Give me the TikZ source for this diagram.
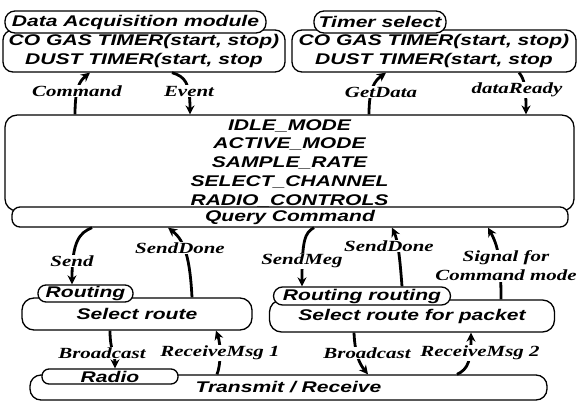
\documentclass[tikz,border=0pt]{standalone}
\usepackage{fontspec}
\usetikzlibrary{arrows.meta}
\newfontfamily\boxf[FakeStretch=1.36]{Liberation Sans}
\newfontfamily\labf[FakeStretch=1.35]{Liberation Serif}
\tikzset{
  box/.style={draw, line width=1.3pt, rounded corners=10pt, fill=white, inner sep=0pt, align=center,
    font=\boxf\bfseries\itshape\fontsize{15.5}{19}\selectfont},
  pill/.style={box},
  conn/.style={line width=2.8pt, -{Stealth[length=9pt,width=9pt]}},
  lab/.style={fill=white, inner sep=1pt, align=center,
    font=\labf\bfseries\itshape\fontsize{15.5}{19}\selectfont}
}
\begin{document}
\begin{tikzpicture}[x=1pt,y=-1pt]
\useasboundingbox (0,0) rectangle (579,402);
% top boxes
\node[box, minimum width=282pt, minimum height=42pt] (tlbox) at (144,51) {CO GAS TIMER(start, stop)\\DUST TIMER(start, stop};
\node[pill, minimum width=261pt, minimum height=22pt] (tlpill) at (135.5,22) {Data Acquisition module};
\node[box, minimum width=284pt, minimum height=42pt] (trbox) at (434,51) {CO GAS TIMER(start, stop)\\DUST TIMER(start, stop};
\node[pill, minimum width=132pt, minimum height=22pt] (trpill) at (380,22) {Timer select};
% big box
\node[box, rounded corners=12pt, minimum width=569pt, minimum height=92pt, font=\boxf\bfseries\itshape\fontsize{15.5}{18.8}\selectfont] (big) at (289.5,163)
  {\rule{0pt}{15pt}IDLE\_MODE\\ACTIVE\_MODE\\SAMPLE\_RATE\\SELECT\_CHANNEL\\RADIO\_CONTROLS\vphantom{\strut}};
\node[box, rounded corners=8pt, minimum width=556pt, minimum height=20pt] (query) at (290,217) {Query Command};
% routing
\node[box, rounded corners=12pt, minimum width=230pt, minimum height=32pt] (srbox) at (137,314) {Select route};
\node[pill, rounded corners=8pt, minimum width=95pt, minimum height=17pt] (rpill) at (85.5,293.5) {Routing};
\node[box, rounded corners=12pt, minimum width=285pt, minimum height=32pt] (sprbox) at (412,316) {Select route for packet};
\node[pill, rounded corners=9pt, minimum width=177pt, minimum height=18pt] (rrpill) at (362,296) {Routing routing};
% radio
\node[box, rounded corners=11pt, minimum width=517pt, minimum height=25pt] (trx) at (288.5,387.5) {\raisebox{-2pt}{Transmit / Receive}};
\node[pill, rounded corners=7pt, minimum width=136pt, minimum height=15pt] (radio) at (110,376.5) {Radio};
% connectors
\draw[conn] ([xshift=-214.5pt]big.north) .. controls +(0,-27) and +(-10,8) .. ([xshift=-54pt]tlbox.south);
\draw[conn] ([xshift=28pt]tlbox.south) .. controls +(13,4) and +(0,-32) .. ([xshift=-99.5pt]big.north);
\draw[conn] ([xshift=79.5pt]big.north) .. controls +(0,-27) and +(-11,8) .. ([xshift=-48pt]trbox.south);
\draw[conn] ([xshift=85pt]trbox.south) .. controls +(5,6) and +(0,-29) .. ([xshift=236.5pt]big.north);
\draw[conn] ([xshift=-198pt]query.south) .. controls +(-12,5) and +(0,-44) .. ([xshift=-13.5pt]rpill.north);
\draw[conn] ([xshift=55pt]srbox.north) .. controls +(-2,-38) and +(17,13) .. ([xshift=-122pt]query.south);
\draw[conn] ([xshift=-27pt]srbox.south) .. controls +(0,20) and +(0,-14) .. ([xshift=5pt]radio.north);
\draw[conn] ([xshift=-71.5pt]trx.north) .. controls +(4,-10) and +(5,14) .. ([xshift=79pt]srbox.south);
\draw[conn] ([xshift=24pt]query.south) .. controls +(-9,5) and +(0,-47) .. ([xshift=-60pt]rrpill.north);
\draw[conn] ([xshift=40pt]rrpill.north) .. controls +(-2,-27) and +(6,13) .. ([xshift=102pt]query.south);
\draw[conn] ([xshift=89pt]sprbox.north) .. controls +(0,-40) and +(10,18) .. ([xshift=198pt]query.south);
\draw[conn] ([xshift=-58pt]sprbox.south) .. controls +(1,23) and +(-8,-10) .. ([xshift=79.5pt]trx.north);
\draw[conn] ([xshift=168.5pt]trx.north) .. controls +(11,-5) and +(0,28) .. ([xshift=59pt]sprbox.south);
% labels
\node[lab] (lcmd) at (77,91) {Command};
\node[lab] (levt) at (189,91) {Event};
\node[lab] (lget) at (381,92) {GetData};
\node[lab] (lrdy) at (517,90) {dataReady};
\node[lab] (lsend) at (72,261) {Send};
\node[lab] (lsd1) at (180,248) {SendDone};
\node[lab] (lsmeg) at (302,261) {SendMeg};
\node[lab] (lsd2) at (389,246) {SendDone};
\node[lab] (lsig) at (506,266) {Signal for\\Command mode};
\node[lab] (lbc1) at (102,353) {Broadcast};
\node[lab] (lrm1) at (220,353) {ReceiveMsg 1};
\node[lab] (lbc2) at (367,353) {Broadcast};
\node[lab] (lrm2) at (480,353) {ReceiveMsg 2};
\end{tikzpicture}
\end{document}
